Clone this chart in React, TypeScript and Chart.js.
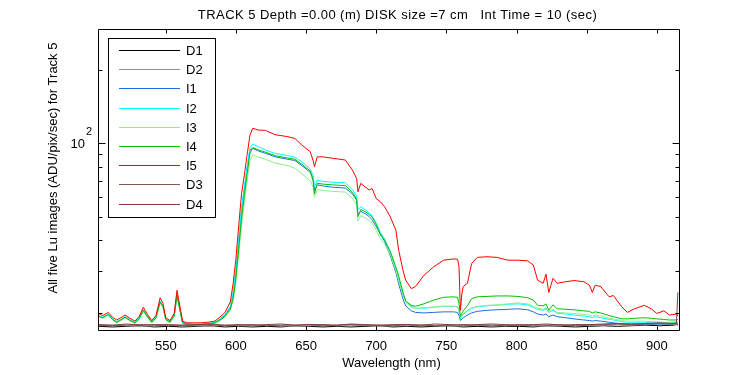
import React, { useEffect, useRef } from "react";
import { Chart, registerables } from "chart.js";

Chart.register(...registerables);

const FONT = "'Liberation Sans', Arial, sans-serif";

const TITLE = "TRACK 5 Depth =0.00 (m) DISK size =7 cm   Int Time = 10 (sec)";
const X_TITLE = "Wavelength (nm)";
const Y_TITLE = "All five Lu images (ADU/pix/sec) for Track 5";

const X_MIN = 501.7;
const X_MAX = 915.8;
const Y_MIN = 17.1;
const Y_MAX = 295;
const X_TICKS = [550, 600, 650, 700, 750, 800, 850, 900];
const Y_MAJOR_TICKS = [100];
const Y_MINOR_TICKS = [20, 30, 40, 50, 60, 70, 80, 90, 200];

// Wavelength grid for lit series
const wl = [
  502, 505, 509, 512, 515, 518, 521, 524, 528, 531,
  534, 537, 540, 543, 546, 548, 550, 553, 556, 558,
  560, 562, 565, 570, 575, 580, 585, 588, 592, 596,
  598, 600, 602, 604, 606, 608, 610, 612, 616, 621,
  628, 637, 642, 647, 653, 655, 656, 658, 662, 669,
  678, 683, 686, 687, 689, 692, 695, 697, 700, 703,
  706, 710, 714, 716, 719, 721, 725, 728, 734, 741,
  748, 755, 758, 759, 760, 761, 762, 765, 768, 772,
  779, 786, 794, 801, 808, 812, 815, 819, 821, 823,
  826, 829, 835, 841, 848, 852, 854, 856, 860, 866,
  869, 875, 879, 884, 891, 896, 900, 905, 909, 914,
  915,
];

const I1 = [
  19.5, 19.2, 19.8, 18.9, 18.4, 18.8, 19.3, 18.8, 18.3, 19.0,
  20.6, 19.4, 18.4, 19.2, 22.3, 21.3, 18.9, 18.4, 19.5, 23.7,
  20.8, 18.3, 18.1, 18.0, 18.0, 18.1, 18.3, 18.8, 19.6, 21.2,
  24.0, 29.5, 39, 53, 65, 79, 94, 95.5, 93, 91,
  88, 86, 85, 81, 76, 72, 64, 67.5, 66.8, 66,
  65.5, 62, 58.5, 51, 52.5, 51.5, 50, 48.5, 45.5, 42.5,
  39.5, 34.5, 29.5, 26.5, 23, 21.5, 20.5, 20.2, 20.1, 20.2,
  20.3, 20.3, 20.2, 19.6, 18.7, 19.0, 19.2, 19.7, 20.1, 20.4,
  20.6, 20.7, 20.8, 20.9, 20.7, 20.3, 19.9, 19.7, 19.9, 19.4,
  19.7, 19.4, 19.2, 19.0, 18.8, 18.7, 18.6, 18.7, 18.6, 18.4,
  18.3, 18.1, 18.1, 18.1, 18.1, 18.1, 18.1, 18.1, 18.1, 18.2,
  18.2,
];

const I2 = [
  19.6, 19.3, 19.9, 19.0, 18.5, 18.9, 19.4, 18.9, 18.4, 19.1,
  20.7, 19.5, 18.5, 19.3, 22.5, 21.5, 19.0, 18.5, 19.6, 24.0,
  21.0, 18.4, 18.2, 18.1, 18.1, 18.2, 18.4, 18.9, 19.7, 21.4,
  24.5, 30, 40, 54, 66, 80, 96, 99.3, 96.8, 94,
  90.9, 89, 87.5, 84, 78.5, 74, 66.3, 70.6, 69.8, 69.2,
  68.9, 64.5, 61, 53.2, 54.9, 53.5, 51.6, 50.3, 47, 43,
  40.5, 35.5, 30.5, 27.5, 24, 22.5, 21.4, 21.0, 21.0, 21.2,
  21.4, 21.4, 21.3, 20.5, 19.0, 19.4, 19.8, 20.5, 21.0, 21.3,
  21.5, 21.6, 21.8, 21.9, 21.7, 21.2, 20.8, 20.6, 20.9, 20.2,
  20.6, 20.0, 19.9, 19.7, 19.5, 19.4, 19.2, 19.4, 19.2, 18.9,
  18.8, 18.5, 18.4, 18.4, 18.4, 18.3, 18.3, 18.3, 18.3, 18.4,
  18.4,
];

const I3 = [
  19.4, 19.1, 19.7, 18.8, 18.3, 18.7, 19.2, 18.7, 18.2, 18.9,
  20.4, 19.3, 18.3, 19.1, 22.0, 21.2, 18.8, 18.3, 19.4, 23.4,
  20.6, 18.2, 18.0, 18.0, 18.0, 18.0, 18.2, 18.6, 19.3, 20.6,
  22.6, 27, 35, 46, 57, 70, 85, 89.5, 88, 86,
  83, 81, 79, 75, 70, 66, 60, 64.5, 64, 63.5,
  63, 59.5, 56, 48, 50.5, 49.5, 48, 47, 44, 40.5,
  38.5, 35, 30, 27.5, 23.8, 22.2, 21.2, 21.0, 21.1, 21.3,
  21.4, 21.4, 21.3, 20.6, 19.2, 19.6, 20.0, 20.6, 21.1, 21.4,
  21.6, 21.7, 21.9, 22.1, 21.9, 21.4, 21.0, 20.8, 21.1, 20.3,
  20.8, 20.2, 20.1, 20.0, 19.8, 19.7, 19.5, 19.7, 19.5, 19.1,
  19.0, 18.7, 18.6, 18.6, 18.6, 18.5, 18.5, 18.4, 18.4, 18.5,
  18.5,
];

const I4 = [
  19.5, 19.2, 19.8, 18.9, 18.4, 18.8, 19.3, 18.8, 18.3, 19.0,
  20.6, 19.4, 18.4, 19.2, 22.3, 21.4, 18.9, 18.4, 19.5, 23.8,
  20.8, 18.3, 18.1, 18.0, 18.0, 18.1, 18.3, 18.7, 19.4, 20.8,
  23.0, 28, 37, 49, 61, 75, 91, 96, 94, 92,
  89, 87, 86, 82, 77, 70, 62, 68.5, 68, 67.5,
  67, 63, 59, 50, 53.5, 52.5, 51, 49.9, 46.5, 42,
  40, 36, 31, 28.5, 24.5, 22.5, 21.6, 21.4, 21.9, 22.7,
  23.3, 23.4, 23.3, 22.0, 19.4, 20.0, 20.5, 21.5, 23.0, 23.4,
  23.5, 23.6, 23.6, 23.5, 23.2, 22.7, 21.6, 21.5, 21.9, 20.6,
  21.7, 20.9, 20.8, 20.7, 20.5, 20.4, 20.1, 20.3, 20.1, 19.6,
  19.4, 19.0, 19.0, 19.1, 19.2, 19.1, 19.0, 18.9, 18.8, 18.8,
  18.9,
];

const I5 = [
  20.0, 19.6, 20.2, 19.3, 18.8, 19.2, 19.7, 19.2, 18.6, 19.4,
  21.2, 19.8, 18.7, 19.6, 23.2, 22.0, 19.2, 18.7, 20.0, 24.9,
  21.5, 18.6, 18.3, 18.3, 18.3, 18.4, 18.6, 19.2, 20.1, 22.3,
  26.5, 33.5, 46, 62, 74, 90, 108, 115.3, 113.4, 113,
  108.5, 106.5, 104.8, 98.4, 92.3, 85, 80.1, 88, 88, 86.8,
  85.4, 77.7, 71.8, 63.2, 68.5, 66.3, 64.3, 65.3, 59.3, 57.5,
  54.9, 49.9, 44.0, 36.4, 30.2, 27.4, 25.3, 25.8, 28.7, 31.1,
  33.1, 33.5, 33.4, 31.1, 20.6, 24.0, 25.8, 26.6, 32.1, 34.0,
  34.2, 34.0, 33.1, 33.1, 32.9, 31.6, 27.4, 26.6, 29.0, 24.4,
  27.9, 26.6, 27.0, 27.3, 27.0, 26.1, 24.4, 26.1, 25.8, 23.4,
  23.7, 21.3, 20.2, 20.9, 21.6, 20.9, 20.0, 20.5, 19.7, 19.9,
  19.5,
];

// Wavelength grid for dark series
const darkWl = [
  502, 512, 522, 532, 542, 552, 562, 572, 582, 592,
  602, 612, 622, 632, 642, 652, 662, 672, 682, 692,
  702, 712, 722, 732, 742, 752, 762, 772, 782, 792,
  802, 812, 822, 832, 842, 852, 862, 872, 882, 892,
  902, 912, 914, 915,
];

const D1 = [
  17.7, 17.6, 17.7, 17.8, 17.6, 17.7, 17.6, 17.7, 17.8, 17.6,
  17.7, 17.6, 17.7, 17.6, 17.8, 17.7, 17.6, 17.7, 17.6, 17.7,
  17.8, 17.6, 17.7, 17.6, 17.7, 17.8, 17.6, 17.7, 17.6, 17.7,
  17.7, 17.6, 17.8, 17.7, 17.6, 17.7, 17.8, 17.7, 17.8, 17.9,
  17.8, 17.9, 18.0, 17.9,
];
const D2 = [
  17.8, 17.9, 17.8, 17.7, 17.8, 17.9, 17.8, 17.8, 17.7, 17.9,
  17.8, 17.8, 17.9, 17.8, 17.7, 17.8, 17.9, 17.8, 17.8, 17.9,
  17.7, 17.8, 17.8, 17.9, 17.8, 17.7, 17.8, 17.9, 17.8, 17.8,
  17.9, 17.8, 17.7, 17.8, 17.9, 17.8, 17.9, 18.0, 17.9, 18.0,
  18.1, 18.0, 18.1, 18.0,
];
const D3 = [
  17.9, 17.8, 17.9, 18.0, 17.9, 17.8, 17.9, 17.9, 18.0, 17.8,
  17.9, 18.0, 17.8, 17.9, 17.9, 18.0, 17.8, 17.9, 18.0, 17.9,
  17.9, 17.8, 18.0, 17.9, 17.8, 17.9, 18.0, 17.9, 17.9, 17.8,
  18.0, 17.9, 17.9, 18.0, 17.8, 17.9, 18.0, 18.1, 18.0, 18.1,
  18.2, 18.1, 18.2, 18.1,
];
const D4 = [
  18.0, 17.9, 18.1, 17.9, 18.0, 18.0, 17.9, 18.0, 18.1, 17.9,
  18.0, 17.9, 18.0, 18.1, 17.9, 18.0, 18.0, 17.9, 18.1, 18.0,
  17.9, 18.0, 18.0, 17.9, 18.1, 18.0, 17.9, 18.0, 18.1, 18.0,
  17.9, 18.0, 18.1, 17.9, 18.0, 18.0, 18.1, 18.2, 18.1, 18.2,
  18.3, 18.2, 18.3, 24.4,
];

const SERIES_LABELS = ["D1", "D2", "I1", "I2", "I3", "I4", "I5", "D3", "D4"];
const SERIES_COLORS = [
  "#000000", "#909090", "#1c6fdf", "#00ffff", "#90ee90",
  "#00c000", "#ff0000", "#805a5a", "#843c3c",
];
const SERIES_VALUES = [D1, D2, I1, I2, I3, I4, I5, D3, D4];
const SERIES_GRID = [darkWl, darkWl, wl, wl, wl, wl, wl, darkWl, darkWl];

const framePlugin = {
  id: "framePlugin",
  afterDraw(chart: any) {
    const { ctx, chartArea: a, scales } = chart;
    const xs = scales.x;
    const ys = scales.y;
    const L = Math.round(a.left) + 0.5;
    const R = Math.round(a.right) + 0.5;
    const T = Math.round(a.top) + 0.5;
    const B = Math.round(a.bottom) + 0.5;
    ctx.save();
    ctx.strokeStyle = "#000";
    ctx.lineWidth = 1;
    ctx.beginPath();
    ctx.rect(L, T, R - L, B - T);
    // x ticks (inside, top and bottom)
    X_TICKS.forEach((v) => {
      const px = Math.round(xs.getPixelForValue(v)) + 0.5;
      ctx.moveTo(px, B);
      ctx.lineTo(px, B - 4);
      ctx.moveTo(px, T);
      ctx.lineTo(px, T + 4);
    });
    const yTick = (v: number, len: number) => {
      const py = Math.round(ys.getPixelForValue(v)) + 0.5;
      ctx.moveTo(L, py);
      ctx.lineTo(L + len, py);
      ctx.moveTo(R, py);
      ctx.lineTo(R - len, py);
    };
    Y_MAJOR_TICKS.forEach((v) => yTick(v, 7));
    Y_MINOR_TICKS.forEach((v) => yTick(v, 4));
    ctx.stroke();

    ctx.fillStyle = "#000";
    // y major tick label 10^2
    Y_MAJOR_TICKS.forEach((v) => {
      const py = ys.getPixelForValue(v);
      const exp = String(Math.round(Math.log10(v)));
      ctx.font = "11px " + FONT;
      ctx.textAlign = "left";
      ctx.textBaseline = "alphabetic";
      const ew = ctx.measureText(exp).width;
      const expX = 92 - ew;
      ctx.fillText(exp, expX, py - 8);
      ctx.font = "13px " + FONT;
      ctx.textAlign = "right";
      ctx.fillText("10", expX - 1, py + 4.5);
    });

    // title
    ctx.font = "13px " + FONT;
    ctx.textAlign = "center";
    ctx.textBaseline = "alphabetic";
    (ctx as any).letterSpacing = "0.45px";
    ctx.fillText(TITLE, 397.5, 19);
    (ctx as any).letterSpacing = "0px";
    // x title
    ctx.fillText(X_TITLE, 391.5, 367);
    // y title
    ctx.save();
    ctx.translate(56.5, 168);
    ctx.rotate(-Math.PI / 2);
    ctx.fillText(Y_TITLE, 0, 0);
    ctx.restore();

    // legend
    const bx = 108.5, by = 38.5, bw = 107, bh = 179;
    ctx.fillStyle = "#fff";
    ctx.fillRect(bx, by, bw, bh);
    ctx.strokeStyle = "#000";
    ctx.strokeRect(bx, by, bw, bh);
    chart.data.datasets.forEach((ds: any, i: number) => {
      const yy = Math.round(50 + i * 19.2) + 0.5;
      ctx.strokeStyle = ds.borderColor;
      ctx.lineWidth = 1;
      ctx.beginPath();
      ctx.moveTo(119, yy);
      ctx.lineTo(180, yy);
      ctx.stroke();
      ctx.fillStyle = "#000";
      ctx.font = "13px " + FONT;
      ctx.textAlign = "left";
      ctx.textBaseline = "middle";
      ctx.fillText(ds.label, 186, yy + 0.5);
    });
    ctx.restore();
  },
};

export default function App() {
  const ref = useRef<HTMLCanvasElement>(null);
  useEffect(() => {
    if (!ref.current) return;
    const datasets = SERIES_LABELS.map((label, i) => ({
      label,
      data: SERIES_GRID[i].map((x, j) => ({ x, y: SERIES_VALUES[i][j] })),
      borderColor: SERIES_COLORS[i],
      backgroundColor: SERIES_COLORS[i],
      borderWidth: 1,
      pointRadius: 0,
      tension: 0,
      fill: false,
      order: SERIES_LABELS.length - i,
    }));
    const chart = new Chart(ref.current, {
      type: "line",
      data: { datasets },
      options: {
        animation: false,
        responsive: true,
        maintainAspectRatio: false,
        layout: { padding: { left: 98, right: 71, top: 29, bottom: 0 } },
        plugins: {
          legend: { display: false },
          title: { display: false },
          tooltip: { enabled: false },
        },
        scales: {
          x: {
            type: "linear",
            min: X_MIN,
            max: X_MAX,
            grid: { display: false },
            border: { display: false },
            afterBuildTicks: (s: any) => {
              s.ticks = X_TICKS.map((v) => ({ value: v }));
            },
            afterFit: (s: any) => {
              s.height = 45;
            },
            ticks: {
              includeBounds: false,
              autoSkip: false,
              maxRotation: 0,
              padding: 1,
              color: "#000",
              font: { family: FONT, size: 13 },
            },
          },
          y: {
            type: "logarithmic",
            display: false,
            min: Y_MIN,
            max: Y_MAX,
          },
        },
      },
      plugins: [framePlugin],
    });
    return () => chart.destroy();
  }, []);
  return (
    <div style={{ position: "absolute", left: 0, top: 0, width: 750, height: 375, background: "#fff" }}>
      <canvas ref={ref} />
    </div>
  );
}
